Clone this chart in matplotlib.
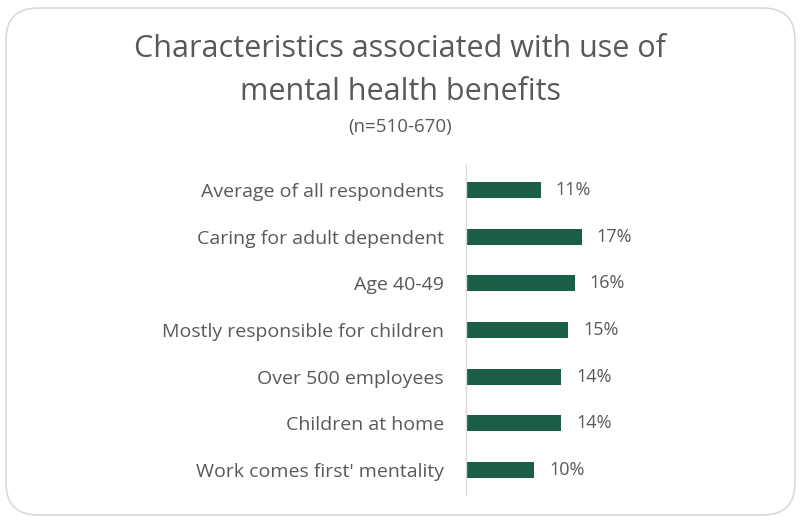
import matplotlib.pyplot as plt
from matplotlib.patches import FancyBboxPatch

plt.rcParams['font.family'] = ['Open Sans', 'DejaVu Sans']

categories = [
    "Average of all respondents",
    "Caring for adult dependent",
    "Age 40-49",
    "Mostly responsible for children",
    "Over 500 employees",
    "Children at home",
    "Work comes first' mentality",
]
values = [11, 17, 16, 15, 14, 14, 10]

bar_color = "#1b5e47"
text_color = "#595959"

fig = plt.figure(figsize=(8, 5.17), dpi=100)

# card outline
card = FancyBboxPatch((6 / 800, 2 / 517), 789 / 800, 507 / 517,
                      boxstyle="round,pad=0,rounding_size=0.04",
                      transform=fig.transFigure, facecolor="none",
                      edgecolor="#d9d9d9", linewidth=1.2, mutation_aspect=800 / 517)
fig.patches.append(card)

fig.text(0.5, 1 - 49 / 517, "Characteristics associated with use of",
         ha="center", va="center", fontsize=22, color=text_color)
fig.text(0.5, 1 - 92 / 517, "mental health benefits",
         ha="center", va="center", fontsize=22, color=text_color)
fig.text(0.5, 1 - 127 / 517, "(n=510-670)",
         ha="center", va="center", fontsize=13.5, color=text_color)

ax = fig.add_axes([466 / 800, 22 / 517, 136 / 800, 330 / 517])
ax.patch.set_alpha(0)
y = list(range(len(categories)))
ax.barh(y, values, height=0.34, color=bar_color)
ax.set_xlim(0, 20)
ax.set_ylim(6.535, -0.535)

for yi, v in zip(y, values):
    ax.text(v + 2.2, yi, f"{v}%", va="center", ha="left", fontsize=13, color=text_color)

ax.set_yticks(y)
ax.set_yticklabels(categories, fontsize=14, color=text_color)
ax.tick_params(axis="y", length=0, pad=16)
ax.set_xticks([])
for side in ["top", "right", "bottom"]:
    ax.spines[side].set_visible(False)
ax.spines["left"].set_color("#d9d9d9")
ax.spines["left"].set_linewidth(1)

fig.savefig("out.png", dpi=100)
